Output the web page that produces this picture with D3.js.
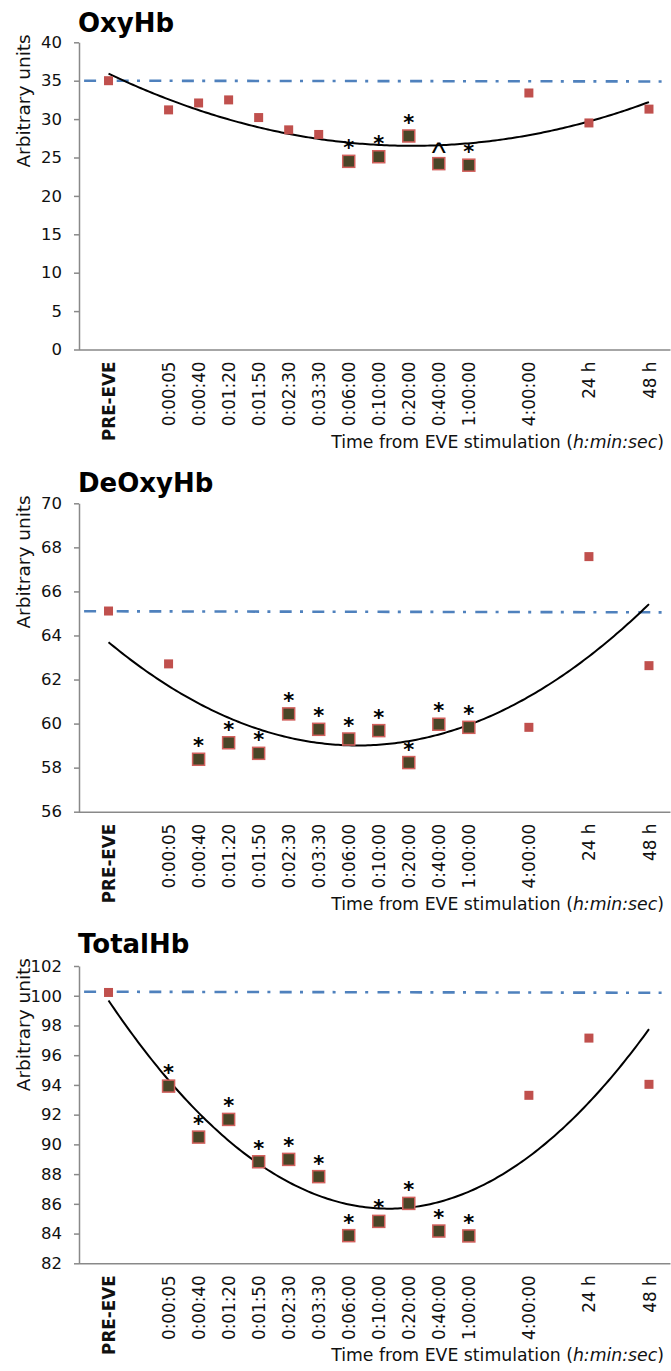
<!DOCTYPE html>
<html>
<head>
<meta charset="utf-8">
<script src="https://cdn.jsdelivr.net/npm/d3@7"></script>
<style>
  html, body { margin: 0; padding: 0; background: #ffffff; }
  svg { display: block; }
  text { font-family: "DejaVu Sans", sans-serif; }
</style>
</head>
<body>
<script>
// ---------- DATA ----------
const categories = ["PRE-EVE","0:00:05","0:00:40","0:01:20","0:01:50","0:02:30","0:03:30",
                    "0:06:00","0:10:00","0:20:00","0:40:00","1:00:00","4:00:00","24 h","48 h"];
// category slot on the x axis (blank slots between some categories)
const slotPositions = [1,3,4,5,6,7,8,9,10,11,12,13,15,17,19];

const oxyValues   = [35.0,31.2,32.1,32.5,30.2,28.6,28.0,24.5,25.1,27.8,24.2,24.0,33.4,29.5,31.3];
const oxyMarks    = ["","","","","","","","*","*","*","^","*","","",""];
const oxyBaseline = [35.0,34.9];
const oxyTicks    = [0,5,10,15,20,25,30,35,40];

const deoxyValues   = [65.11,62.71,58.38,59.13,58.65,60.44,59.74,59.30,59.68,58.23,59.97,59.83,59.83,67.58,62.63];
const deoxyMarks    = ["","","*","*","*","*","*","*","*","*","*","*","","",""];
const deoxyBaseline = [65.1,65.05];
const deoxyTicks    = [56,58,60,62,64,66,68,70];

const totalValues   = [100.22,93.92,90.49,91.68,88.83,88.99,87.83,83.86,84.82,86.03,84.17,83.84,93.30,97.15,94.04];
const totalMarks    = ["","*","*","*","*","*","*","*","*","*","*","*","","",""];
const totalBaseline = [100.27,100.2];
const totalTicks    = [82,84,86,88,90,92,94,96,98,100,102];

const titles = ["OxyHb","DeOxyHb","TotalHb"];
const yAxisLabel = "Arbitrary units";
const xAxisLabelMain = "Time from EVE stimulation (";
const xAxisLabelItalic = "h:min:sec";
const xAxisLabelEnd = ")";

// ---------- LAYOUT ----------
const W = 671, H = 1371;
const panels = [
  {title: titles[0], values: oxyValues,   marks: oxyMarks,   base: oxyBaseline,   ticks: oxyTicks,   top: 42.3,  bottom: 349.5,  titleY: 32},
  {title: titles[1], values: deoxyValues, marks: deoxyMarks, base: deoxyBaseline, ticks: deoxyTicks, top: 503.3, bottom: 811.7,  titleY: 492},
  {title: titles[2], values: totalValues, marks: totalMarks, base: totalBaseline, ticks: totalTicks, top: 966,   bottom: 1263.3, titleY: 953}
];

const svg = d3.select("body").append("svg").attr("width", W).attr("height", H);

const axisX = 79;
const x = d3.scaleLinear().domain([0, 19.7]).range([78.5, 670]);

const RED = "#C0504D";
const DARK = "#4A4527";
const BLUE = "#4F81BD";
const GRAY = "#898989";
const INK = "#111111";

// least-squares quadratic fit (polynomial trendline)
function quadFit(xs, ys) {
  const n = xs.length;
  let s = [0,0,0,0,0], t = [0,0,0];
  for (let i = 0; i < n; i++) {
    const xi = xs[i], yi = ys[i];
    let p = 1;
    for (let k = 0; k < 5; k++) { s[k] += p; if (k < 3) t[k] += p * yi; p *= xi; }
  }
  const A = [[s[0],s[1],s[2],t[0]],[s[1],s[2],s[3],t[1]],[s[2],s[3],s[4],t[2]]];
  for (let i = 0; i < 3; i++) {
    let piv = i;
    for (let r = i+1; r < 3; r++) if (Math.abs(A[r][i]) > Math.abs(A[piv][i])) piv = r;
    [A[i], A[piv]] = [A[piv], A[i]];
    for (let r = 0; r < 3; r++) {
      if (r === i) continue;
      const f = A[r][i] / A[i][i];
      for (let c = i; c < 4; c++) A[r][c] -= f * A[i][c];
    }
  }
  return [A[0][3]/A[0][0], A[1][3]/A[1][1], A[2][3]/A[2][2]];
}

panels.forEach(p => {
  const g = svg.append("g");
  const ext = d3.extent(p.ticks);
  const y = d3.scaleLinear().domain(ext).range([p.bottom, p.top]);

  // title
  g.append("text").attr("x", 78).attr("y", p.titleY)
    .style("font-weight", "bold").style("font-size", "26px").attr("fill", "#000")
    .text(p.title);

  // y axis
  const yAxis = d3.axisLeft(y).tickValues(p.ticks).tickSize(5).tickSizeOuter(0).tickPadding(12)
    .tickFormat(d3.format("d"));
  const ya = g.append("g").attr("transform", `translate(${axisX},0)`).call(yAxis);
  ya.select(".domain").attr("stroke", GRAY).attr("stroke-width", 1.5);
  ya.selectAll(".tick line").attr("stroke", GRAY).attr("stroke-width", 1.5);
  ya.selectAll(".tick text").style("font-size", "16.5px").style("font-family", "DejaVu Sans, sans-serif").attr("fill", INK);

  // y axis label
  g.append("text")
    .attr("transform", `translate(30,${p.top - 8}) rotate(-90)`)
    .attr("text-anchor", "end")
    .style("font-size", "18.5px").attr("fill", INK)
    .text(yAxisLabel);

  // x axis (line only + rotated labels)
  const xAxis = d3.axisBottom(x).tickValues(slotPositions).tickSize(0).tickSizeOuter(0)
    .tickFormat((d, i) => categories[i]);
  const xa = g.append("g").attr("transform", `translate(0,${p.bottom})`).call(xAxis);
  xa.select(".domain").attr("stroke", GRAY).attr("stroke-width", 1.5);
  xa.selectAll(".tick text")
    .attr("transform", "rotate(-90)")
    .attr("text-anchor", "end")
    .attr("x", -12).attr("y", 0).attr("dy", "0.36em")
    .style("font-size", "16.8px").style("font-family", "DejaVu Sans, sans-serif")
    .style("font-weight", (d, i) => i === 0 ? "bold" : "normal")
    .attr("fill", INK);

  // x axis title
  const xt = g.append("text").attr("x", 664).attr("y", p.bottom + 98)
    .attr("text-anchor", "end").style("font-size", "17.3px").attr("fill", INK);
  xt.append("tspan").text(xAxisLabelMain);
  xt.append("tspan").style("font-style", "italic").text(xAxisLabelItalic);
  xt.append("tspan").text(xAxisLabelEnd);

  // baseline (dash-dot)
  g.append("line")
    .attr("x1", x(0)).attr("x2", x(19.43))
    .attr("y1", y(p.base[0])).attr("y2", y(p.base[1]))
    .attr("stroke", BLUE).attr("stroke-width", 2.6)
    .attr("stroke-dasharray", "12,8.3,3,9.3").attr("stroke-dashoffset", 27);

  // polynomial trendline
  const coef = quadFit(slotPositions, p.values);
  const xs = d3.range(0, 201).map(i => 1 + i * 18 / 200);
  const line = d3.line().x(d => x(d)).y(d => y(coef[0] + coef[1]*d + coef[2]*d*d));
  g.append("path").attr("d", line(xs)).attr("fill", "none").attr("stroke", "#000").attr("stroke-width", 2);

  // markers
  const pts = p.values.map((v, i) => ({v, i, s: slotPositions[i], m: p.marks[i]}));
  g.selectAll("rect.small").data(pts.filter(d => !d.m)).enter().append("rect")
    .attr("x", d => x(d.s) - 4.5).attr("y", d => y(d.v) - 4.5)
    .attr("width", 9).attr("height", 9)
    .attr("fill", RED);
  g.selectAll("rect.sig").data(pts.filter(d => d.m)).enter().append("rect")
    .attr("x", d => x(d.s) - 6).attr("y", d => y(d.v) - 6)
    .attr("width", 12).attr("height", 12)
    .attr("fill", DARK).attr("stroke", "#D2605C").attr("stroke-width", 1.5);

  // significance labels
  pts.filter(d => d.m === "*").forEach(d => {
    const fs = 21;
    g.append("text").attr("x", x(d.s)).attr("y", y(d.v) - 18.5 + 0.595 * fs)
      .attr("text-anchor", "middle").style("font-size", fs + "px").style("font-weight", "bold")
      .attr("fill", "#000")
      .text(d.m);
  });
  pts.filter(d => d.m === "^").forEach(d => {
    const fs = 30;
    g.append("text").attr("x", x(d.s)).attr("y", y(d.v) - 15.5 + 0.51 * fs)
      .attr("text-anchor", "middle").style("font-size", fs + "px")
      .style("font-family", "Liberation Sans, sans-serif").attr("fill", "#000")
      .text(d.m);
  });
});
</script>
</body>
</html>
